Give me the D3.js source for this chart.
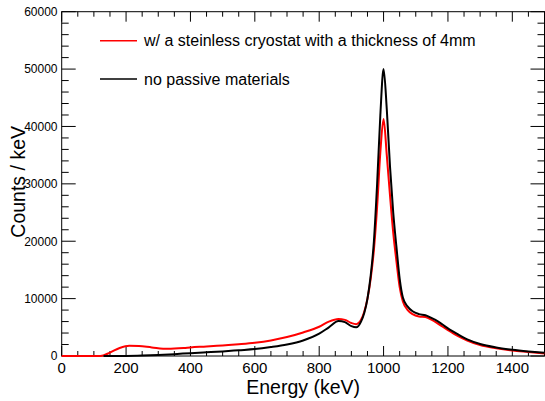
<!DOCTYPE html>
<html><head><meta charset="utf-8">
<script src="https://cdn.jsdelivr.net/npm/d3@7"></script>
<style>body{margin:0;background:#fff}svg{display:block}text{font-family:"Liberation Sans",Arial,Helvetica,sans-serif}</style>
</head><body><svg id="c" width="545" height="401"></svg>
<script>
// Data (energy in keV, counts per keV)
const xTicks = [0, 200, 400, 600, 800, 1000, 1200, 1400];
const yTicks = [0, 10000, 20000, 30000, 40000, 50000, 60000];
const seriesNames = ["w/ a steinless cryostat with a thickness of 4mm", "no passive materials"];
const seriesColors = ["#ff0000", "#000000"];

const cryoEnergy = [0,60,120,150,180,210,240,280,330,380,400,450,500,550,600,650,700,750,800,830,860,880,900,915,930,940,950,960,970,980,990,1000,1010,1020,1030,1040,1050,1060,1075,1090,1110,1130,1150,1170,1200,1230,1260,1300,1350,1400,1450,1500];
const cryoCounts = [0,0,0,600,1400,1800,1750,1500,1250,1400,1500,1650,1850,2050,2300,2700,3300,4100,5100,6000,6450,6300,5750,5550,6300,7700,10000,13500,18500,26000,35500,41300,35000,28000,21500,16500,12000,9500,8000,7300,6900,6800,6300,5600,4500,3500,2700,1900,1350,950,700,450];

const bareEnergy = [130,200,250,300,350,400,450,500,550,600,650,700,750,800,830,860,880,900,915,930,940,950,960,970,980,990,1000,1010,1020,1030,1040,1050,1060,1075,1090,1110,1130,1150,1170,1200,1230,1260,1300,1350,1400,1450,1500];
const bareCounts = [0,20,80,180,320,500,650,800,1000,1200,1550,2000,2700,3900,5000,6100,5900,5200,5000,6000,7500,10000,14000,20000,30000,42000,50000,43000,33000,25000,19000,13500,10200,8600,7800,7300,7100,6600,6000,4800,3800,2900,2100,1500,1100,800,550];

const svg = d3.select("#c");
const L = 61.7, R = 544.5, T = 11.7, B = 356;
const x = d3.scaleLinear().domain([0, 1500]).range([L, R]);
const y = d3.scaleLinear().domain([0, 60000]).range([B, T]);

// Frame
svg.append("rect").attr("x", L).attr("y", T).attr("width", R - L).attr("height", B - T)
  .attr("fill", "none").attr("stroke", "#000").attr("stroke-width", 1);

// Ticks
const xMinor = d3.range(0, 1501, 50);
const yMinor = d3.range(0, 60001, 2000);
const tg = svg.append("g").attr("stroke", "#000").attr("stroke-width", 1);
xMinor.forEach(v => {
  const major = v % 200 === 0;
  const len = major ? 10 : 5;
  tg.append("line").attr("x1", x(v)).attr("x2", x(v)).attr("y1", B).attr("y2", B - len);
  tg.append("line").attr("x1", x(v)).attr("x2", x(v)).attr("y1", T).attr("y2", T + len);
});
yMinor.forEach(v => {
  const major = v % 10000 === 0;
  const len = major ? 14 : 7;
  tg.append("line").attr("y1", y(v)).attr("y2", y(v)).attr("x1", L).attr("x2", L + len);
  tg.append("line").attr("y1", y(v)).attr("y2", y(v)).attr("x1", R).attr("x2", R - len);
});

// Tick labels
svg.append("g").selectAll("text").data(xTicks).join("text")
  .attr("x", d => x(d)).attr("y", 372.5).attr("text-anchor", "middle")
  .attr("font-size", 15).attr("fill", "#000").text(d => d);
svg.append("g").selectAll("text").data(yTicks).join("text")
  .attr("x", 57.5).attr("y", d => y(d) + 4.3).attr("text-anchor", "end")
  .attr("font-size", 12).attr("fill", "#000").text(d => d);

// Axis titles
svg.append("text").attr("x", (L + R) / 2).attr("y", 394).attr("text-anchor", "middle")
  .attr("font-size", 19.5).attr("fill", "#000").text("Energy (keV)");
svg.append("text").attr("transform", `translate(24.5,${(T + B) / 2 - 2}) rotate(-90)`)
  .attr("text-anchor", "middle").attr("font-size", 19.5).attr("fill", "#000").text("Counts / keV");

// Curves
const line = d3.line().x(d => x(d[0])).y(d => y(d[1])).curve(d3.curveMonotoneX);
const cryo = cryoEnergy.map((e, i) => [e, cryoCounts[i]]);
const bare = bareEnergy.map((e, i) => [e, bareCounts[i]]);
svg.append("path").datum(cryo).attr("d", line).attr("fill", "none")
  .attr("stroke", seriesColors[0]).attr("stroke-width", 2).attr("stroke-linejoin", "round");
svg.append("path").datum(bare).attr("d", line).attr("fill", "none")
  .attr("stroke", seriesColors[1]).attr("stroke-width", 2).attr("stroke-linejoin", "round");

// Legend
const legY = [40.7, 79];
seriesNames.forEach((n, i) => {
  svg.append("line").attr("x1", 100).attr("x2", 137).attr("y1", legY[i]).attr("y2", legY[i])
    .attr("stroke", seriesColors[i]).attr("stroke-width", 1.5);
  svg.append("text").attr("x", 144).attr("y", legY[i] + 5.5).attr("font-size", 16)
    .attr("fill", "#000").text(n);
});
</script></body></html>
